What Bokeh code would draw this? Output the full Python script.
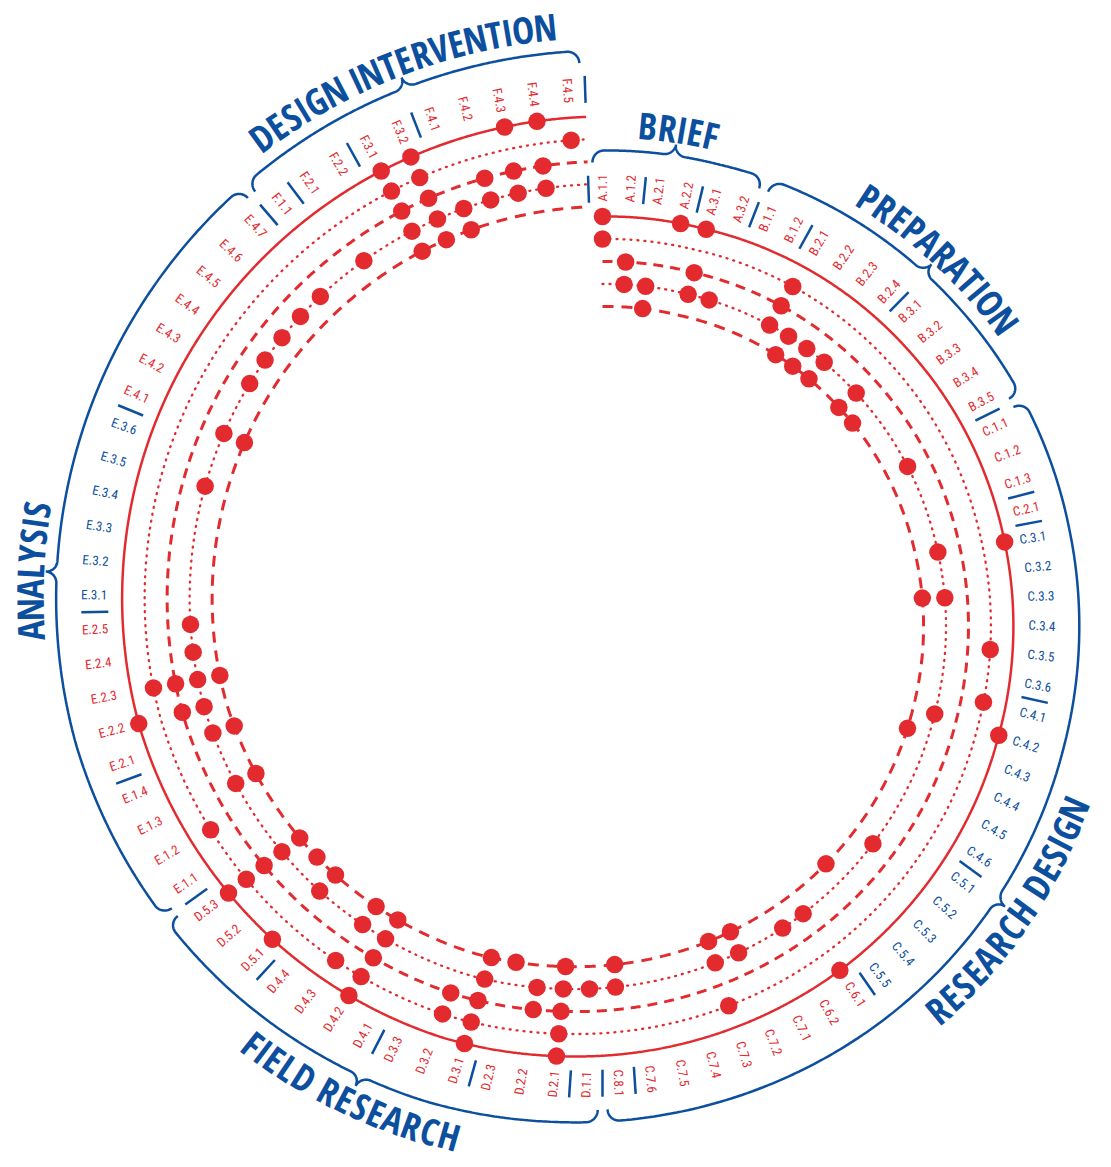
import numpy as np
from bokeh.plotting import figure
from bokeh.models import ColumnDataSource, Range1d
from bokeh.embed import file_html
from bokeh.resources import INLINE
from bokeh.core.properties import value

# ---------------- data ----------------
CATEGORIES = [
    "A.1.1", "A.1.2", "A.2.1", "A.2.2", "A.3.1", "A.3.2",
    "B.1.1", "B.1.2", "B.2.1", "B.2.2", "B.2.3", "B.2.4",
    "B.3.1", "B.3.2", "B.3.3", "B.3.4", "B.3.5",
    "C.1.1", "C.1.2", "C.1.3", "C.2.1",
    "C.3.1", "C.3.2", "C.3.3", "C.3.4", "C.3.5", "C.3.6",
    "C.4.1", "C.4.2", "C.4.3", "C.4.4", "C.4.5", "C.4.6",
    "C.5.1", "C.5.2", "C.5.3", "C.5.4", "C.5.5",
    "C.6.1", "C.6.2",
    "C.7.1", "C.7.2", "C.7.3", "C.7.4", "C.7.5", "C.7.6",
    "C.8.1",
    "D.1.1", "D.2.1", "D.2.2", "D.2.3", "D.3.1", "D.3.2", "D.3.3",
    "D.4.1", "D.4.2", "D.4.3", "D.4.4", "D.5.1", "D.5.2", "D.5.3",
    "E.1.1", "E.1.2", "E.1.3", "E.1.4",
    "E.2.1", "E.2.2", "E.2.3", "E.2.4", "E.2.5",
    "E.3.1", "E.3.2", "E.3.3", "E.3.4", "E.3.5", "E.3.6",
    "E.4.1", "E.4.2", "E.4.3", "E.4.4", "E.4.5", "E.4.6", "E.4.7",
    "F.1.1", "F.2.1", "F.2.2", "F.3.1", "F.3.2",
    "F.4.1", "F.4.2", "F.4.3", "F.4.4", "F.4.5",
]
GROUP_KEYS = ["A", "B", "C", "D", "E", "F"]
GROUP_NAMES = ["BRIEF", "PREPARATION", "RESEARCH DESIGN", "FIELD RESEARCH",
               "ANALYSIS", "DESIGN INTERVENTION"]
BLUE_SUBGROUPS = ["C.3", "C.4", "C.5", "E.3"]
NO_DIVIDER_BEFORE = ["C.7.1"]

TRACK_SOLID = ["A.1.1", "A.2.2", "A.3.1", "C.3.1", "C.4.2", "C.6.1", "D.2.1", "D.3.1",
               "D.4.2", "D.5.1", "D.5.3", "E.2.2", "F.3.1", "F.3.2", "F.4.3", "F.4.4"]
TRACK_DOT_OUTER = ["A.1.1", "B.2.1", "C.3.5", "C.4.1", "C.7.3", "D.2.1", "D.3.1", "D.3.2",
                   "D.4.2", "D.4.3", "D.5.3", "E.1.2", "E.2.3", "F.3.1", "F.3.2", "F.4.5"]
TRACK_DASH_OUTER = ["A.1.2", "A.3.1", "B.2.1", "D.2.1", "D.2.2", "D.3.1", "D.3.2", "D.4.2",
                    "D.5.3", "E.2.2", "E.2.3", "F.3.1", "F.3.2", "F.4.2", "F.4.3", "F.4.4"]
TRACK_DOT_INNER = ["A.1.2", "A.2.1", "A.3.1", "A.3.2", "B.2.1", "B.2.2", "B.2.3", "B.2.4",
                   "B.3.2", "C.1.1", "C.3.1", "C.3.3", "C.4.2", "C.5.2", "C.6.1", "C.6.2",
                   "C.7.2", "C.7.3", "C.8.1", "D.1.1", "D.2.1", "D.2.2", "D.3.1", "D.4.2",
                   "D.4.3", "D.5.1", "D.5.3", "E.1.3", "E.2.1", "E.2.2", "E.2.3", "E.2.4",
                   "E.2.5", "E.3.5", "E.4.1", "E.4.3", "E.4.4", "E.4.5", "E.4.6", "E.4.7",
                   "F.2.1", "F.3.1", "F.3.2", "F.4.1", "F.4.2", "F.4.3", "F.4.4"]
TRACK_DASH_INNER = ["A.2.1", "B.2.2", "B.2.3", "B.2.4", "B.3.2", "B.3.3", "C.3.3", "C.4.3",
                    "C.5.4", "C.7.2", "C.7.3", "C.8.1", "D.2.1", "D.2.3", "D.3.1", "D.4.2",
                    "D.4.3", "D.5.1", "D.5.2", "D.5.3", "E.1.3", "E.2.1", "E.2.3", "E.4.1",
                    "F.3.1", "F.3.2", "F.4.1"]
TRACKS = [TRACK_SOLID, TRACK_DOT_OUTER, TRACK_DASH_OUTER, TRACK_DOT_INNER, TRACK_DASH_INNER]

# ---------------- layout / style ----------------
RED = "#e32b2f"
BLUE = "#0b4f9e"
W, H = 1111, 1167
CX, CY = 602, 603                       # spiral centre, pixels from the figure's top-left
STEP = 360.0 / len(CATEGORIES)
# radius of the outer (solid) spiral against angle (clockwise from top)
SPIRAL_T = [0, 15, 50, 81, 108, 147, 186, 200, 225, 255, 273, 299, 331, 352, 360]
SPIRAL_R = [387, 388.2, 397, 406.7, 417.4, 436.9, 455, 462.5, 471, 479, 480.6, 483, 485.7, 486.6, 487]
TRACK_OFFSETS = [0, 22.5, 45, 67.5, 90]
TRACK_STYLES = [
    dict(line_width=2.5, line_dash="solid"),
    dict(line_width=2.3, line_dash="1 6", line_cap="round"),
    dict(line_width=3.0, line_dash="10 7"),
    dict(line_width=2.3, line_dash="1 6", line_cap="round"),
    dict(line_width=3.0, line_dash="11 8"),
]
LABEL_FONT = "'Roboto Condensed', 'DejaVu Sans Condensed', sans-serif"
TITLE_FONT = "'Open Sans Condensed', 'Roboto Condensed', sans-serif"
TITLE_SIZE = 37
TITLE_TRACK = 0.0
TITLE_OFF = 93
BRACE_OFF = 66
TIP_SHIFT = [-0.15, 0.4, 1.3, 0.0, -0.9, 0.1]     # brace tip / title position, in item steps
CHAR_W = {"A": .53, "B": .55, "C": .50, "D": .57, "E": .45, "F": .43, "G": .57,
          "H": .59, "I": .27, "L": .43, "N": .60, "O": .60, "P": .52, "R": .53,
          "S": .46, "T": .45, "V": .51, "Y": .49, " ": .21}


def r_solid(t):
    return np.interp(t, SPIRAL_T, SPIRAL_R)


def polar(t, r):
    a = np.radians(t)
    return np.asarray(r) * np.sin(a), np.asarray(r) * np.cos(a)


idx = {lab: i for i, lab in enumerate(CATEGORIES)}

p = figure(width=W, height=H, output_backend="svg", toolbar_location=None,
           x_range=Range1d(-CX, W - CX), y_range=Range1d(CY - H, CY),
           min_border=0, background_fill_color="white")
p.axis.visible = False
p.grid.visible = False
p.outline_line_color = None

# ---- spiral tracks ----
t_line = np.linspace(0, (len(CATEGORIES) - 0.5) * STEP, 2000)
for k in range(5):
    x, y = polar(t_line, r_solid(t_line) - TRACK_OFFSETS[k])
    p.line(x, y, line_color=RED, **TRACK_STYLES[k])

# ---- dots ----
for k, track in enumerate(TRACKS):
    t = np.array([idx[l] for l in track]) * STEP
    x, y = polar(t, r_solid(t) - TRACK_OFFSETS[k])
    p.scatter(x, y, size=17.5, fill_color=RED, line_color=None)

# ---- item labels ----
for side in ("left", "right"):
    xs, ys, angs, txt, cols = [], [], [], [], []
    for i, lab in enumerate(CATEGORIES):
        t = i * STEP
        if (t < 180) != (side == "left"):
            continue
        x, y = polar(t, r_solid(t) + 15)
        xs.append(float(x)); ys.append(float(y))
        angs.append(np.radians(90 - t) if t < 180 else np.radians(270 - t))
        txt.append(lab)
        cols.append(BLUE if lab[:3] in BLUE_SUBGROUPS else RED)
    src = ColumnDataSource(dict(x=xs, y=ys, a=angs, t=txt, c=cols))
    p.text("x", "y", text="t", angle="a", text_color="c", source=src,
           text_font=value(LABEL_FONT), text_font_size="13px",
           text_align=side, text_baseline="middle")

# ---- dividers between sub-groups ----
bounds = [0]
for i in range(1, len(CATEGORIES)):
    if CATEGORIES[i][:3] != CATEGORIES[i - 1][:3] and CATEGORIES[i] not in NO_DIVIDER_BEFORE:
        bounds.append(i)
bounds.append(len(CATEGORIES))
tb = (np.array(bounds) - 0.5) * STEP
x0, y0 = polar(tb, r_solid(tb) + 14)
x1, y1 = polar(tb, r_solid(tb) + 41)
p.segment(x0, y0, x1, y1, line_color=BLUE, line_width=2.5)

# ---- group braces and titles ----
RH, RT = 12.0, 11.0
tx, ty, ta, tt = [], [], [], []
for g, name, shift in zip(GROUP_KEYS, GROUP_NAMES, TIP_SHIFT):
    members = [i for i, l in enumerate(CATEGORIES) if l.startswith(g + ".")]
    i0, i1 = members[0], members[-1]
    t_mid = ((i0 + i1) / 2 + shift) * STEP
    Rb = float(r_solid(t_mid)) + BRACE_OFF
    gap = np.degrees(5.0 / Rb)
    ts = (i0 - 0.5) * STEP + gap
    te = (i1 + 0.5) * STEP - gap
    L = np.radians(te - ts) * Rb
    sm = np.radians(t_mid - ts) * Rb
    phi = np.linspace(0, np.pi / 2, 30)
    s_parts, o_parts = [], []
    s_parts.append(RH * (1 - np.cos(phi))); o_parts.append(BRACE_OFF - RH + RH * np.sin(phi))
    s_parts.append(np.linspace(RH, sm - RT, 80)); o_parts.append(np.full(80, BRACE_OFF))
    s_parts.append(sm - RT + RT * np.sin(phi)); o_parts.append(BRACE_OFF + RT * (1 - np.cos(phi)))
    s_parts.append(sm + RT - RT * np.sin(phi[::-1])); o_parts.append(BRACE_OFF + RT * (1 - np.cos(phi[::-1])))
    s_parts.append(np.linspace(sm + RT, L - RH, 80)); o_parts.append(np.full(80, BRACE_OFF))
    s_parts.append(L - RH * (1 - np.cos(phi[::-1]))); o_parts.append(BRACE_OFF - RH + RH * np.sin(phi[::-1]))
    s = np.concatenate(s_parts); o = np.concatenate(o_parts)
    tt_b = ts + np.degrees(s / Rb)
    bx, by = polar(tt_b, r_solid(tt_b) + o)
    p.line(bx, by, line_color=BLUE, line_width=2.5)

    # title letters along the arc
    R = float(r_solid(t_mid)) + TITLE_OFF
    adv = np.array([CHAR_W[c] * TITLE_SIZE + TITLE_TRACK for c in name])
    centers = np.cumsum(adv) - adv / 2 - adv.sum() / 2
    lower = 90 < t_mid < 270
    sign = -1 if lower else 1
    tc = t_mid + sign * np.degrees(centers / R)
    cx_, cy_ = polar(tc, r_solid(tc) + TITLE_OFF)
    for c, xx, yy, th in zip(name, cx_, cy_, tc):
        if c == " ":
            continue
        tx.append(float(xx)); ty.append(float(yy)); tt.append(c)
        ta.append(np.radians(180 - th) if lower else np.radians(-th))

tsrc = ColumnDataSource(dict(x=tx, y=ty, a=ta, t=tt))
p.text("x", "y", text="t", angle="a", source=tsrc, text_color=BLUE,
       text_font=value(TITLE_FONT), text_font_size=f"{TITLE_SIZE}px", text_font_style="bold",
       text_align="center", text_baseline="middle")

open("out.html", "w").write(file_html(p, INLINE))
